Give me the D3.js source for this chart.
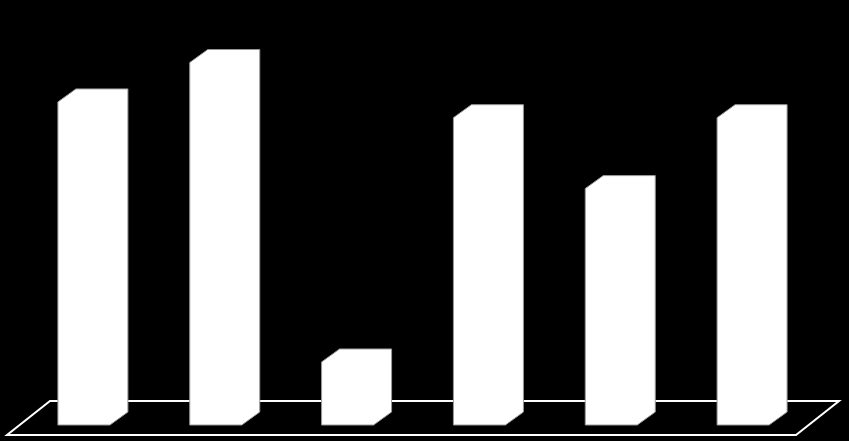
<!DOCTYPE html>
<html>
<head>
<meta charset="utf-8">
<script src="https://cdn.jsdelivr.net/npm/d3@7"></script>
<style>
  html, body { margin: 0; padding: 0; background: #000; }
  svg { display: block; }
</style>
</head>
<body>
<div id="chart"></div>
<script>
// 3D column chart, white bars on black
const categories = ["1", "2", "3", "4", "5", "6"];
const values = [8.2, 9.2, 1.6, 7.8, 6.0, 7.8];
const yTicks = [0, 2, 4, 6, 8, 10]; // axis hidden in the original

const width = 849, height = 441;
const barW = 52;
const depth = { dx: 18, dy: 13 };      // bar depth offset
const floorDepth = { dx: 43, dy: 34 }; // floor depth offset
const floorFront = 435, baseY = 425;

const svg = d3.select("#chart").append("svg")
  .attr("width", width).attr("height", height)
  .style("background", "#000");

const x = d3.scaleBand().domain(categories).range([18, 809]).padding(0);
const y = d3.scaleLinear().domain([0, d3.max(yTicks)]).range([baseY, 31]);

// Floor
const fl = 7, fr = 796;
svg.append("polygon")
  .attr("points", [
    [fl, floorFront], [fr, floorFront],
    [fr + floorDepth.dx, floorFront - floorDepth.dy],
    [fl + floorDepth.dx, floorFront - floorDepth.dy]
  ].map(p => p.join(",")).join(" "))
  .attr("fill", "#000")
  .attr("stroke", "#fff")
  .attr("stroke-width", 2);

// Bars
const bars = svg.append("g");
categories.forEach((c, i) => {
  const x0 = x(c) + x.bandwidth() / 2 - barW / 2;
  const x1 = x0 + barW;
  const yt = y(values[i]);
  const pts = [
    [x0, baseY], [x1, baseY],
    [x1 + depth.dx, baseY - depth.dy],
    [x1 + depth.dx, yt - depth.dy],
    [x0 + depth.dx, yt - depth.dy],
    [x0, yt]
  ];
  bars.append("polygon")
    .attr("points", pts.map(p => p.join(",")).join(" "))
    .attr("fill", "#fff")
    .attr("stroke", "#999")
    .attr("stroke-width", 1);
});
</script>
</body>
</html>
